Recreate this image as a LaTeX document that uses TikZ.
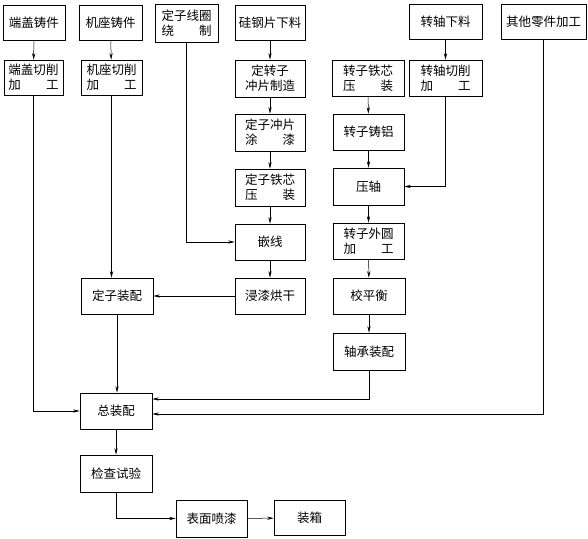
\documentclass[tikz,border=0pt]{standalone}
\usepackage{fontspec}
\newfontfamily\cjk{Noto Sans CJK SC}
\usepackage{tikz}
\usetikzlibrary{calc, arrows.meta}

\newcommand{\spread}[2]{\makebox[4em]{#1\hfill #2}}

\begin{document}
\begin{tikzpicture}[x=1pt, y=-1pt, line cap=round,
    proc/.style={draw, line width=0.6pt, minimum width=71pt, minimum height=36pt,
        inner sep=1pt, align=center, font=\cjk\fontsize{12.5}{15}\selectfont},
    flow/.style={line width=0.5pt, -{Stealth[length=6.5pt, width=3.2pt]}}]

    \useasboundingbox (0,0) rectangle (588,538);

    % Top row
    \node[proc, minimum width=62pt, minimum height=35pt] (dgzj) at (34,22.5) {端盖铸件};
    \node[proc, minimum width=63pt, minimum height=35pt] (jzzj) at (110.5,22.5) {机座铸件};
    \node[proc, minimum width=63pt, minimum height=38pt] (xqrz) at (186.5,23) {定子线圈\\\spread{绕}{制}};
    \node[proc, minimum width=70pt, minimum height=35pt] (ggxl) at (270,22.5) {硅钢片下料};
    \node[proc, minimum width=73pt, minimum height=35pt] (zzxl) at (445.5,21.5) {转轴下料};
    \node[proc, minimum width=85pt, minimum height=35pt] (qtlj) at (543.5,21.5) {其他零件加工};

    % Second row
    \node[proc, minimum width=59pt, minimum height=35pt] (dgqx) at (33.5,77.5) {端盖切削\\\spread{加}{工}};
    \node[proc, minimum width=61pt, minimum height=35pt] (jzqx) at (111.5,77.5) {机座切削\\\spread{加}{工}};
    \node[proc, minimum width=70pt, minimum height=37pt] (cpzz) at (270,78.5) {定转子\\冲片制造};
    \node[proc, minimum width=72pt] (zxyz) at (368,78) {转子铁芯\\\spread{压}{装}};
    \node[proc, minimum width=73pt] (zzqx) at (445.5,78) {转轴切削\\\spread{加}{工}};

    % Stator column
    \node[proc, minimum width=70pt, minimum height=37pt] (cptq) at (270,132.5) {定子冲片\\\spread{涂}{漆}};
    \node[proc, minimum width=70pt, minimum height=37pt] (dxyz) at (270,187.5) {定子铁芯\\\spread{压}{装}};
    \node[proc, minimum width=70pt] (qxian) at (270,242) {嵌线};
    \node[proc, minimum width=70pt] (jqhg) at (270,296) {浸漆烘干};

    % Rotor column
    \node[proc] (zlzl) at (368.5,132) {转子铸铝};
    \node[proc, minimum height=37pt] (yzhou) at (368.5,186.5) {压轴};
    \node[proc] (wyjg) at (368.5,241) {转子外圆\\\spread{加}{工}};
    \node[proc, minimum width=72pt] (jphg) at (369,296) {校平衡};
    \node[proc, minimum width=72pt, minimum height=37pt] (zczp) at (369,351.5) {轴承装配};

    % Assembly
    \node[proc, minimum width=72pt] (dzzp) at (117,296) {定子装配};
    \node[proc, minimum width=72pt] (zzpei) at (116,411) {总装配};
    \node[proc, minimum width=72pt, minimum height=37pt] (jcsy) at (116,473.5) {检查试验};
    \node[proc, minimum height=37pt] (bmpq) at (211.5,518.5) {表面喷漆};
    \node[proc, minimum height=35pt] (zxiang) at (309.5,518) {装箱};

    % Inputs on the right of the final assembly
    \coordinate (inA) at ($(zzpei.east)+(0,-12)$);
    \coordinate (inB) at ($(zzpei.east)+(0,3)$);

    % Connectors
    \draw[flow] (dgzj) -- (dgqx);
    \draw[flow] (jzzj) -- (jzqx);
    \draw[flow] (ggxl) -- (cpzz);
    \draw[flow] (zzxl) -- (zzqx);
    \draw[flow] (cpzz) -- (cptq);
    \draw[flow] (cptq) -- (dxyz);
    \draw[flow] (dxyz) -- (qxian);
    \draw[flow] (qxian) -- (jqhg);
    \draw[flow] (xqrz.south) |- (qxian.west);
    \draw[flow] (zxyz) -- (zlzl);
    \draw[flow] (zlzl) -- (yzhou);
    \draw[flow] (zzqx.south) |- (yzhou.east);
    \draw[flow] (yzhou) -- (wyjg);
    \draw[flow] (wyjg) -- (jphg);
    \draw[flow] (jphg) -- (zczp);
    \draw[flow] (jqhg) -- (dzzp);
    \draw[flow] (jzqx.south) -- (jzqx.south |- dzzp.north);
    \draw[flow] (dzzp.south) -- (dzzp.south |- zzpei.north);
    \draw[flow] (dgqx.south) |- (zzpei.west);
    \draw[flow] (zczp.south) |- (inA);
    \draw[flow] (qtlj.south) |- (inB);
    \draw[flow] (zzpei) -- (jcsy);
    \draw[flow] (jcsy.south) |- (bmpq.west);
    \draw[flow] (bmpq) -- (zxiang);
\end{tikzpicture}
\end{document}
